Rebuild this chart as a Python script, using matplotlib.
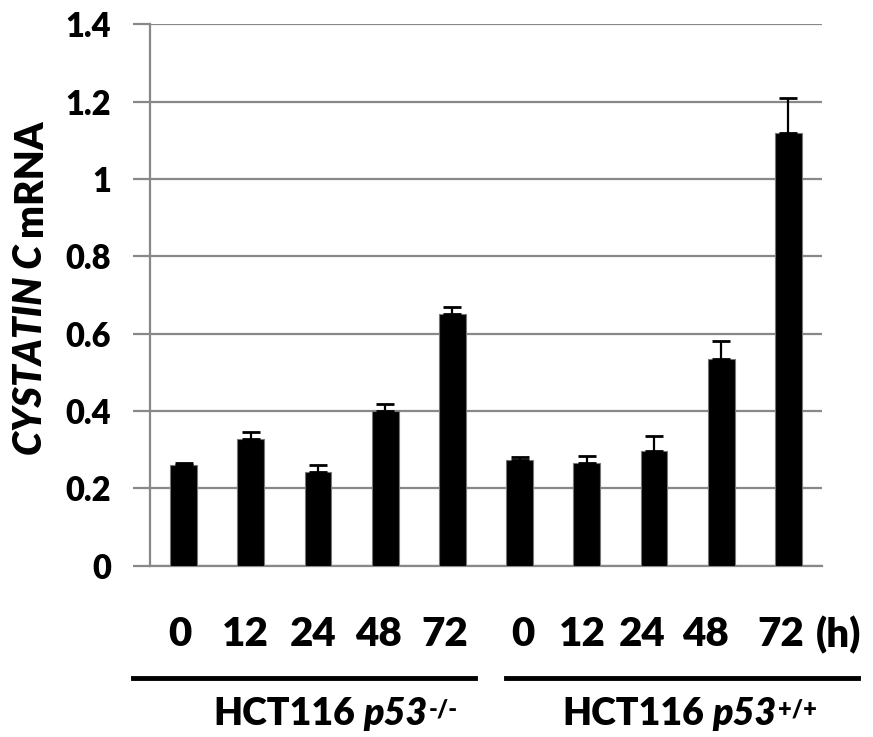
import matplotlib
matplotlib.use('Agg')
import matplotlib.pyplot as plt
import numpy as np

# --- Data: CYSTATIN C mRNA, mean and upper SD ---
times = ['0', '12', '24', '48', '72']
groups = ['p53-/-', 'p53+/+']
knockout_mean = [0.260, 0.327, 0.242, 0.400, 0.651]
knockout_err = [0.005, 0.019, 0.018, 0.017, 0.019]
wildtype_mean = [0.273, 0.265, 0.297, 0.535, 1.118]
wildtype_err = [0.008, 0.019, 0.038, 0.045, 0.092]

W, H = 873, 737
GRID = '#888888'
FONT = 'Lato'
WEIGHT = 'heavy'


def px(x, y):
    # pixel position (from top-left) -> figure fraction
    return x / W, 1 - y / H


fig = plt.figure(figsize=(W / 100, H / 100), dpi=100)
ax = fig.add_axes([150 / W, 1 - 565.7 / H, 672 / W, 541.4 / H])

means = knockout_mean + wildtype_mean
errs = knockout_err + wildtype_err
x = np.arange(len(means))

ax.bar(x, means, width=0.4, color='black', edgecolor='#777777', linewidth=0.8, zorder=3)
ax.errorbar(x, means, yerr=[np.zeros(len(errs)), errs], fmt='none', ecolor='black',
            elinewidth=1.6, capsize=6.5, capthick=2, zorder=4)

ax.set_xlim(-0.5, len(means) - 0.5)
ax.set_ylim(0, 1.4)
ax.set_yticks(np.arange(0, 1.41, 0.2))
ax.set_yticklabels(['0', '0.2', '0.4', '0.6', '0.8', '1', '1.2', '1.4'],
                   fontsize=23.5, fontweight=WEIGHT, family=FONT)
ax.set_xticks([])
ax.grid(axis='y', color=GRID, linewidth=1.6, zorder=0)
ax.tick_params(axis='y', length=12, width=1.6, color=GRID, pad=16)
for side in ['top', 'right']:
    ax.spines[side].set_visible(False)
ax.spines['left'].set_color(GRID)
ax.spines['left'].set_linewidth(1.6)
ax.spines['bottom'].set_color(GRID)
ax.spines['bottom'].set_linewidth(1.6)

# time labels under the bars
label_x = [180, 245, 313, 378, 445, 523, 582, 642, 705, 781]
for xi, t in zip(label_x, times + times):
    fig.text(*px(xi, 635), t, ha='center', va='center', fontsize=29,
             fontweight=WEIGHT, family=FONT)
fig.text(*px(839, 635), '(h)', ha='center', va='center', fontsize=29,
         fontweight=WEIGHT, family=FONT)

# group bracket lines
for x0, x1 in [(133, 475), (506, 858)]:
    fig.add_artist(plt.Line2D([x0 / W, x1 / W], [1 - 678 / H] * 2,
                              color='black', linewidth=3.5))

# group labels: HCT116 + italic p53 + superscript genotype
for x0, sup in [(213, '-/-'), (562, '+/+')]:
    t1 = fig.text(*px(x0, 725), 'HCT116', ha='left', va='baseline',
                  fontsize=27, fontweight=WEIGHT, family=FONT)
    t2 = fig.add_artist(plt.Annotation('p53', xy=(1, 0), xycoords=t1,
                                       xytext=(6, 0), textcoords='offset points',
                                       ha='left', va='bottom', fontsize=27,
                                       fontweight=WEIGHT, fontstyle='italic', family=FONT))
    fig.add_artist(plt.Annotation(sup, xy=(1, 1), xycoords=t2,
                                  xytext=(1, -1), textcoords='offset points',
                                  ha='left', va='top', fontsize=17,
                                  fontweight=WEIGHT, family=FONT))

# y axis label: italic gene name + mRNA
y1 = fig.text(*px(30, 455), 'CYSTATIN C', rotation=90, ha='center', va='bottom',
              fontsize=28, fontweight=WEIGHT, fontstyle='italic', family=FONT)
fig.add_artist(plt.Annotation('mRNA', xy=(0.5, 1), xycoords=y1,
                              xytext=(0, 6), textcoords='offset points',
                              rotation=90, ha='center', va='bottom', fontsize=28,
                              fontweight=WEIGHT, family=FONT))

fig.savefig('out.png', dpi=100)
